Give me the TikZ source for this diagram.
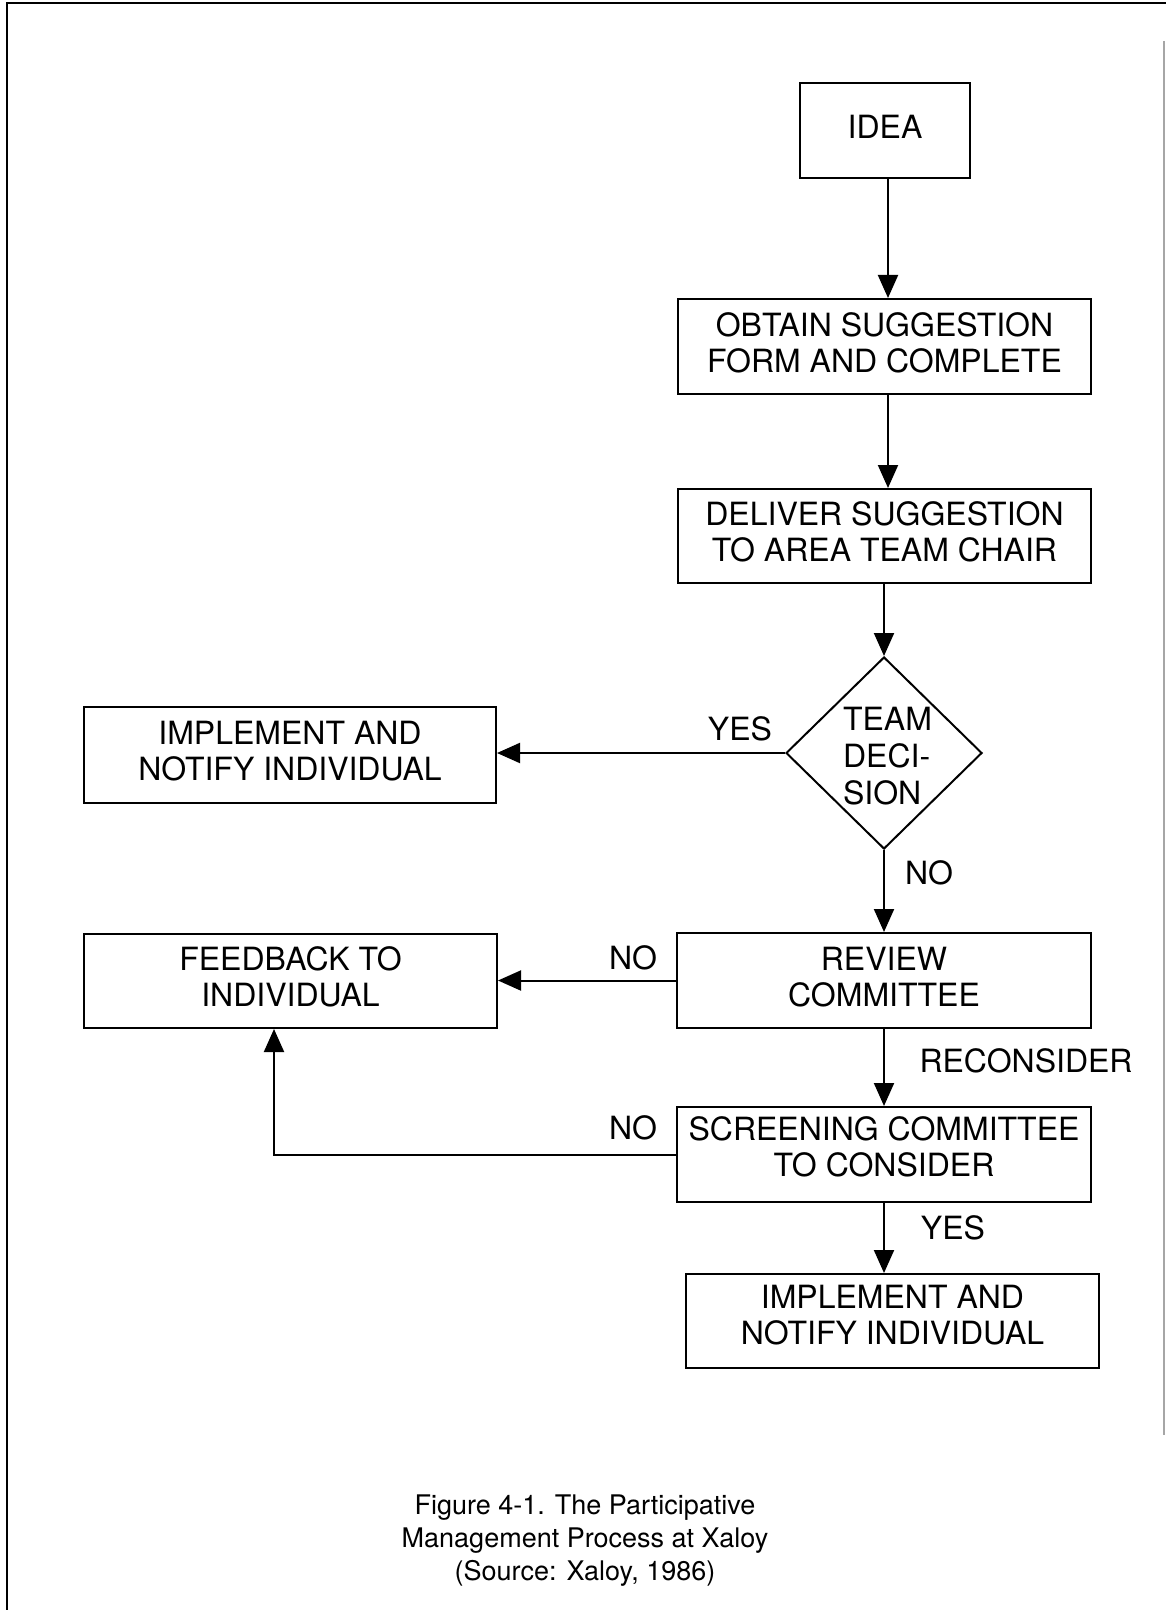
\documentclass[tikz,border=0pt]{standalone}
\usepackage{fontspec}
\setmainfont{TeX Gyre Heros}
\usetikzlibrary{arrows.meta,shapes.geometric}
\begin{document}
\begin{tikzpicture}[x=0.5pt,y=-0.5pt,
  boxtext/.style={font=\fontsize{16}{18}\selectfont},
  flowbox/.style={draw, line width=1pt, inner sep=0pt, align=center, boxtext, text depth=4pt},
  arr/.style={line width=1pt, -{Triangle[length=11.5pt,width=10pt]}},
  lbl/.style={boxtext, inner sep=0pt}]
\useasboundingbox (0,0) rectangle (1166,1610);
% frame
\draw[line width=1.3pt] (1166,3) -- (7,3) -- (7,1610);
\draw[line width=0.8pt, gray!70] (1164,41) -- (1164,1435);
% nodes
\node[flowbox, minimum width=85pt, minimum height=47.5pt] (idea) at (885,131) {IDEA};
\node[flowbox, minimum width=206.5pt, minimum height=47.5pt] (obtain) at (884.5,346.5) {OBTAIN SUGGESTION\\FORM AND COMPLETE};
\node[flowbox, minimum width=206.5pt, minimum height=47pt] (deliver) at (884.5,536) {DELIVER SUGGESTION\\TO AREA TEAM CHAIR};
\node[draw, diamond, line width=1pt, inner sep=0pt, minimum width=98pt, minimum height=96pt] (dec) at (884,753) {};
\node[boxtext, align=left, inner sep=0pt, font=\fontsize{16}{18.5}\selectfont] (dectext) at (887.5,756) {TEAM\\DECI-\\SION};
\node[flowbox, minimum width=206pt, minimum height=48pt] (impla) at (290,755) {IMPLEMENT AND\\NOTIFY INDIVIDUAL};
\node[flowbox, minimum width=207pt, minimum height=47.5pt] (review) at (884,980.5) {REVIEW\\COMMITTEE};
\node[flowbox, minimum width=206.5pt, minimum height=47pt] (feedback) at (290.5,981) {FEEDBACK TO\\INDIVIDUAL};
\node[flowbox, text depth=7.5pt, minimum width=207pt, minimum height=47.5pt] (screen) at (884,1154.5) {SCREENING COMMITTEE\\TO CONSIDER};
\node[flowbox, text depth=6.5pt, minimum width=206.5pt, minimum height=47pt] (implb) at (892.5,1321) {IMPLEMENT AND\\NOTIFY INDIVIDUAL};
% connector labels
\node[lbl] (yesa) at (740,729) {YES};
\node[lbl] (noa) at (929,873) {NO};
\node[lbl] (nob) at (633,958) {NO};
\node[lbl] (recon) at (1026,1061) {RECONSIDER};
\node[lbl] (noc) at (633,1128) {NO};
\node[lbl] (yesb) at (953,1228) {YES};
% connectors
\draw[arr] (idea.south -| 888,0) -- (obtain.north -| 888,0);
\draw[arr] (obtain.south -| 888,0) -- (deliver.north -| 888,0);
\draw[arr] (deliver.south -| dec.north) -- (dec.north);
\draw[arr] (dec.west) -- (impla.east |- dec.west);
\draw[arr] (dec.south) -- (review.north -| dec.south);
\draw[arr] (review.west) -- (feedback.east |- review.west);
\draw[arr] (review.south) -- (screen.north);
\coordinate (loopc) at (274,1028);
\draw[arr] (screen.west) -| (feedback.south -| loopc);
\draw[arr] (screen.south) -- (implb.north -| screen.south);
% caption
\node[inner sep=0pt, align=center, font=\fontsize{13.5}{16.5}\selectfont] (caption) at (585,1541) {Figure 4-1. The Participative\\Management Process at Xaloy\\(Source: Xaloy, 1986)};
\end{tikzpicture}
\end{document}
